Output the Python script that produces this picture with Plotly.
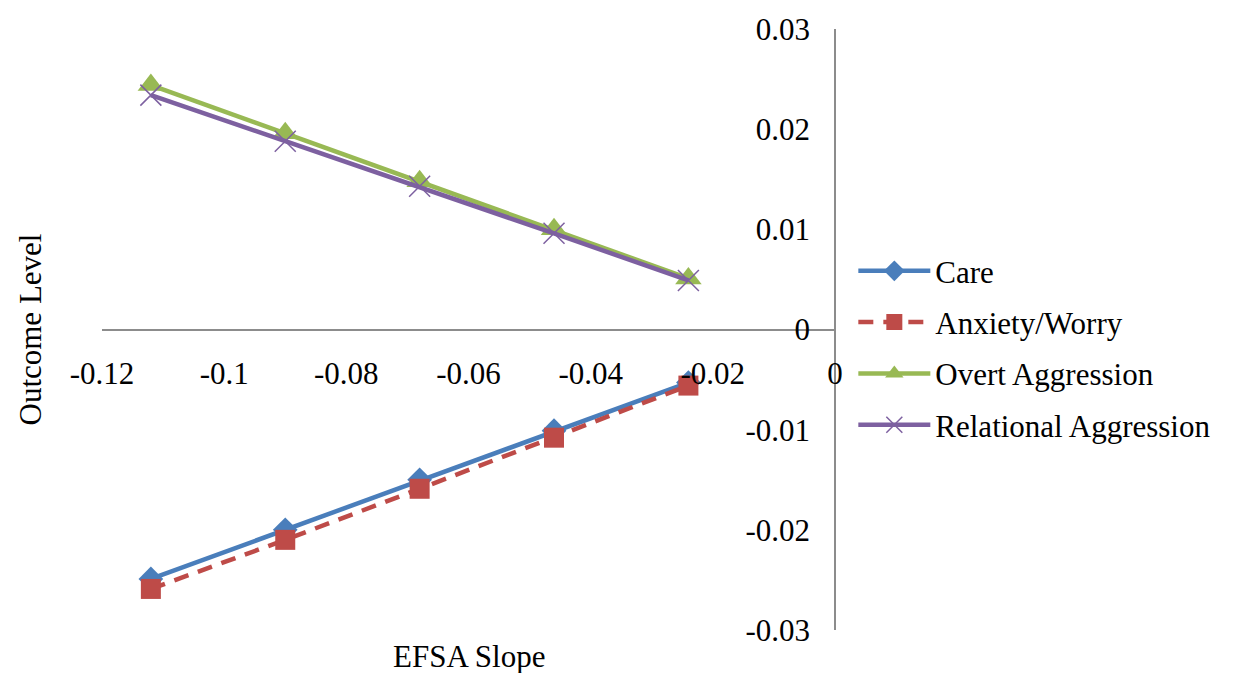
import plotly.graph_objects as go

efsa_slope = [-0.112, -0.090, -0.068, -0.046, -0.024]
care = [-0.0249, -0.0200, -0.0150, -0.0101, -0.0053]
anxiety_worry = [-0.0259, -0.0210, -0.0159, -0.0108, -0.0056]
overt_aggression = [0.0244, 0.0196, 0.0148, 0.0100, 0.0051]
relational_aggression = [0.0234, 0.0188, 0.0143, 0.0096, 0.0049]

x_ticks = [-0.12, -0.1, -0.08, -0.06, -0.04, -0.02, 0]
x_tick_labels = ["-0.12", "-0.1", "-0.08", "-0.06", "-0.04", "-0.02", "0"]
y_ticks = [-0.03, -0.02, -0.01, 0, 0.01, 0.02, 0.03]
y_tick_labels = ["-0.03", "-0.02", "-0.01", "0", "0.01", "0.02", "0.03"]

FONT = "Liberation Serif"
FS = 31

fig = go.Figure()
fig.add_trace(go.Scatter(
    x=efsa_slope, y=care, name="Care", mode="lines+markers", legendgroup="a",
    line=dict(color="#4A7EBB", width=4.5),
    marker=dict(symbol="diamond", size=19, color="#4A7EBB")))
fig.add_trace(go.Scatter(
    x=efsa_slope, y=anxiety_worry, name="Anxiety/Worry", mode="lines+markers", legendgroup="b",
    line=dict(color="#BE4B48", width=4.5, dash="15px,10px"),
    marker=dict(symbol="square", size=20, color="#BE4B48")))
fig.add_trace(go.Scatter(
    x=efsa_slope, y=overt_aggression, name="Overt Aggression", mode="lines+markers", legendgroup="c",
    line=dict(color="#98B954", width=4.5),
    marker=dict(symbol="triangle-up", size=23, color="#98B954")))
fig.add_trace(go.Scatter(
    x=efsa_slope, y=relational_aggression, name="Relational Aggression", mode="lines+markers", legendgroup="d",
    line=dict(color="#7D60A0", width=4.5),
    marker=dict(symbol="x-thin", size=21, line=dict(color="#7D60A0", width=1.5))))

fig.update_layout(
    width=1238, height=673,
    margin=dict(l=102, r=403, t=24, b=43),
    paper_bgcolor="white", plot_bgcolor="white",
    font=dict(family=FONT, size=FS, color="black"),
    showlegend=True,
    legend=dict(x=1.025, y=0.469, xanchor="left", yanchor="middle",
                font=dict(family=FONT, size=FS, color="black"),
                tracegroupgap=8, itemwidth=72, bgcolor="rgba(0,0,0,0)"),
    xaxis=dict(range=[-0.12, 0], tickvals=x_ticks, ticktext=x_tick_labels,
               showgrid=False, zeroline=False, showline=True, linecolor="#8C8C8C", linewidth=1.5,
               anchor="free", position=0.5, ticks="", ticklabelstandoff=17,
               tickfont=dict(family=FONT, size=FS, color="black")),
    yaxis=dict(range=[-0.03, 0.03], tickvals=y_ticks, ticktext=y_tick_labels,
               showgrid=False, zeroline=False, showline=True, linecolor="#8C8C8C", linewidth=1.5,
               anchor="free", position=1.0, side="left", ticks="", ticklabelstandoff=18,
               tickfont=dict(family=FONT, size=FS, color="black")),
    annotations=[
        dict(text="EFSA Slope", x=0.5, y=-0.012, xref="paper", yref="paper",
             xanchor="center", yanchor="top",
             showarrow=False, font=dict(family=FONT, size=FS, color="black")),
        dict(text="Outcome Level", x=(30 - 102) / (1238 - 102 - 403), y=0.5,
             xref="paper", yref="paper", xanchor="center", yanchor="middle", textangle=-90,
             showarrow=False, font=dict(family=FONT, size=FS, color="black")),
    ],
)
fig.write_html("out.html")
